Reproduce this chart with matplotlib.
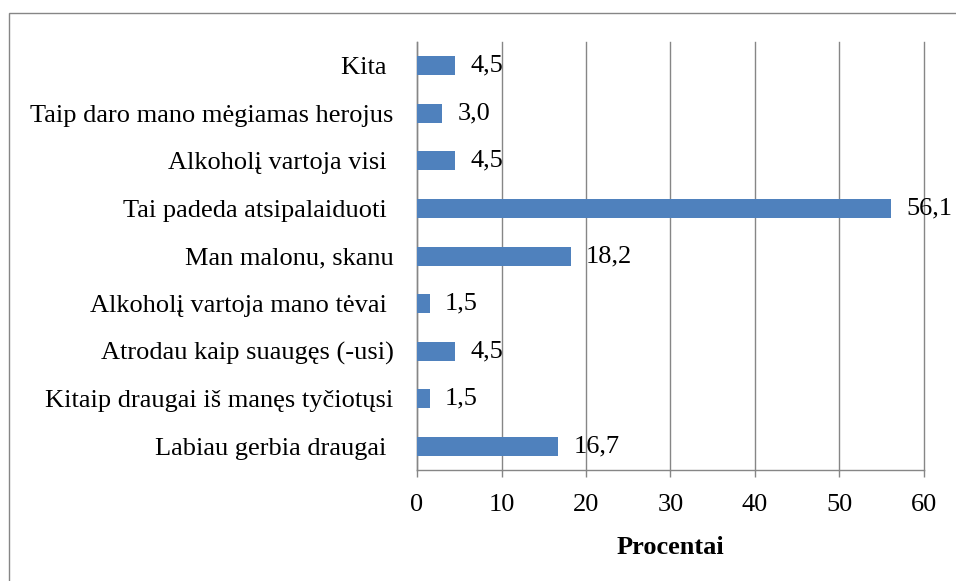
import matplotlib.pyplot as plt
from matplotlib.patches import Rectangle

plt.rcParams['font.family'] = ['Liberation Serif', 'DejaVu Serif']
plt.rcParams['font.size'] = 19

# kategorijos (iš viršaus į apačią) ir procentai
categories = [
    'Kita ',
    'Taip daro mano mėgiamas herojus',
    'Alkoholį vartoja visi ',
    'Tai padeda atsipalaiduoti ',
    'Man malonu, skanu',
    'Alkoholį vartoja mano tėvai ',
    'Atrodau kaip suaugęs (-usi)',
    'Kitaip draugai iš manęs tyčiotųsi',
    'Labiau gerbia draugai ',
]
values = [4.5, 3.0, 4.5, 56.1, 18.2, 1.5, 4.5, 1.5, 16.7]
xticks = [0, 10, 20, 30, 40, 50, 60]

grey = '#868686'
bar_color = '#4F81BD'

fig = plt.figure(figsize=(9.56, 5.81), dpi=100)
ax = fig.add_axes([0.4362, 0.191, 0.5303, 0.7367])

y = list(range(len(categories)))[::-1]
ax.barh(y, values, height=0.4, color=bar_color, zorder=3)

for yi, v in zip(y, values):
    ax.annotate(f'{v:.1f}'.replace('.', ','), xy=(v, yi), xytext=(11, 0),
                textcoords='offset points', ha='left', va='center', zorder=4)

ax.set_yticks(y)
ax.set_yticklabels(categories)
ax.set_ylim(-0.5, len(categories) - 0.5)
ax.set_xlim(0, 60)
ax.set_xticks(xticks)
ax.set_xlabel('Procentai', fontweight='bold', labelpad=15)

ax.xaxis.grid(True, color=grey, linewidth=1.0)
for gl in ax.get_xgridlines():
    gl.set_clip_on(False)
ax.set_axisbelow(True)
for side in ['top', 'right']:
    ax.spines[side].set_visible(False)
for side in ['left', 'bottom']:
    ax.spines[side].set_color(grey)
    ax.spines[side].set_linewidth(1.0)
ax.tick_params(axis='x', colors=grey, length=5, width=1.0, pad=12, labelcolor='black')
ax.tick_params(axis='y', length=0, pad=17, labelcolor='black')

# rėmelis aplink diagramą
fig.add_artist(Rectangle((8.5 / 956, -0.1), 1.2, 1.1 - 13 / 581,
                         transform=fig.transFigure, fill=False,
                         edgecolor=grey, linewidth=1.0))

fig.savefig('out.png', dpi=100)
